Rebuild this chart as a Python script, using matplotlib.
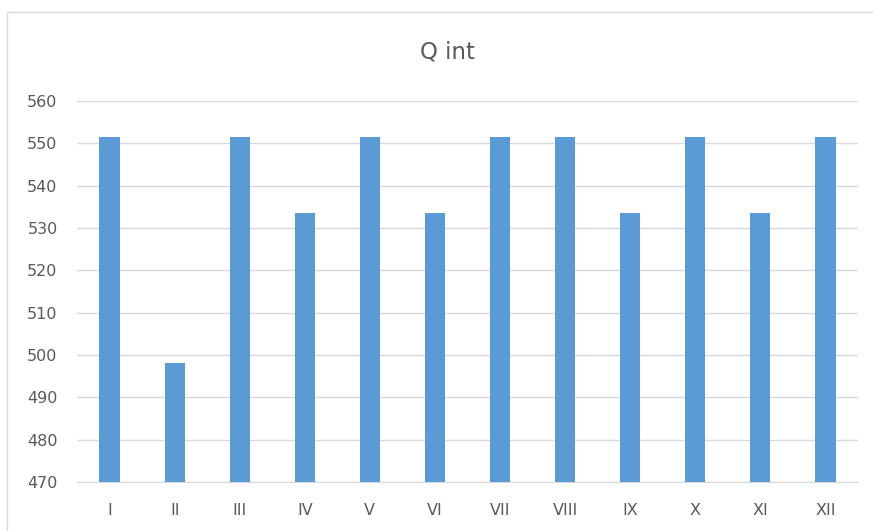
import numpy as np
import matplotlib
matplotlib.use('Agg')
import matplotlib.pyplot as plt
from matplotlib.patches import Rectangle

categories = ['I', 'II', 'III', 'IV', 'V', 'VI', 'VII', 'VIII', 'IX', 'X', 'XI', 'XII']
q_int = [551.6, 498.0, 551.6, 533.5, 551.6, 533.5, 551.6, 551.6, 533.5, 551.6, 533.5, 551.6]
yticks = [470, 480, 490, 500, 510, 520, 530, 540, 550, 560]

W, H = 873, 531
fig = plt.figure(figsize=(W / 100, H / 100), dpi=100)
# chart frame, cut off at right and bottom like the screenshot
fig.patches.append(Rectangle((7 / W, -10 / H), 880 / W, (531 - 12 + 10) / H, transform=fig.transFigure,
                             fill=False, edgecolor='#d9d9d9', linewidth=1.0))

ax = fig.add_axes([77 / W, 1 - 482 / H, (858 - 77) / W, (482 - 101) / H])
x = np.arange(len(categories))
ax.bar(x, q_int, width=0.31, color='#5b9bd5', zorder=3)
ax.set_xlim(-0.5, len(categories) - 0.5)
ax.set_ylim(470, 560)
ax.set_yticks(yticks)
ax.set_xticks(x)
ax.set_xticklabels(categories)
ax.grid(axis='y', color='#d9d9d9', linewidth=1.0, zorder=0)
for s in ['top', 'right', 'left']:
    ax.spines[s].set_visible(False)
ax.spines['bottom'].set_color('#d9d9d9')
ax.tick_params(length=0, colors='#595959', labelsize=11.5)
ax.tick_params(axis='x', pad=15)
ax.tick_params(axis='y', pad=14)
fig.text(447 / W, 1 - 52 / H, 'Q int', ha='center', va='center',
         fontsize=16.5, color='#595959')

fig.savefig('out.png', dpi=100)
